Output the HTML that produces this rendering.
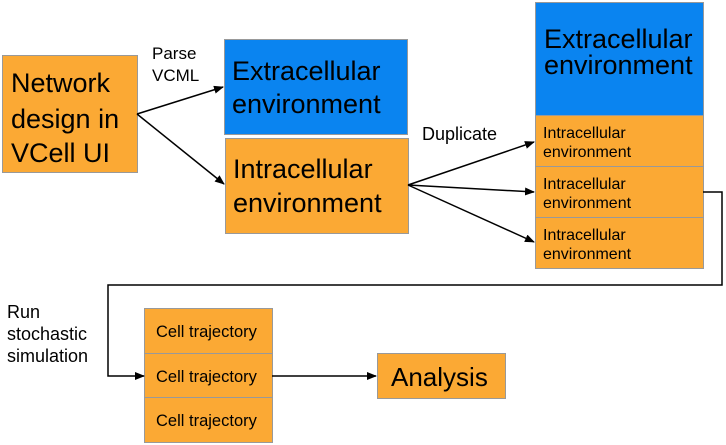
<!DOCTYPE html>
<html><head><style>
body{margin:0;background:#fff;}
svg{display:block;font-family:"Liberation Sans",sans-serif;}
</style></head><body>
<svg width="726" height="445" viewBox="0 0 726 445">
<defs><marker id="a" markerWidth="10" markerHeight="8" refX="9" refY="4" orient="auto" markerUnits="userSpaceOnUse"><path d="M0,0 L10,4 L0,8 Z" fill="#000"/></marker></defs>
<g stroke="#999" stroke-width="1">
<rect x="2.5" y="55.5" width="135" height="117" fill="#FBA934"/>
<rect x="224.5" y="39.5" width="183" height="95" fill="#0A84F0"/>
<rect x="225.5" y="138.5" width="183" height="95" fill="#FBA934"/>
<rect x="535.5" y="2.5" width="168" height="113" fill="#0A84F0"/>
<rect x="535.5" y="115.5" width="168" height="51" fill="#FBA934"/>
<rect x="535.5" y="166.5" width="168" height="51" fill="#FBA934"/>
<rect x="535.5" y="217.5" width="168" height="51" fill="#FBA934"/>
<rect x="144.5" y="308.5" width="128" height="45" fill="#FBA934"/>
<rect x="144.5" y="353.5" width="128" height="44" fill="#FBA934"/>
<rect x="144.5" y="397.5" width="128" height="45" fill="#FBA934"/>
<rect x="377.5" y="353.5" width="128" height="45" fill="#FBA934"/>
</g>
<g stroke="#000" stroke-width="1.5" fill="none">
<line x1="137" y1="114" x2="223" y2="87" marker-end="url(#a)"/>
<line x1="137" y1="114" x2="224" y2="184" marker-end="url(#a)"/>
<line x1="408" y1="185" x2="534" y2="142" marker-end="url(#a)"/>
<line x1="408" y1="185" x2="534" y2="192" marker-end="url(#a)"/>
<line x1="408" y1="185" x2="534" y2="242" marker-end="url(#a)"/>
<polyline points="703,192 722,192 722,285 108,285 108,376 144,376" marker-end="url(#a)"/>
<line x1="272" y1="376" x2="376" y2="376" marker-end="url(#a)"/>
</g>
<g fill="#000">
<text font-size="27"><tspan x="11" y="92">Network</tspan><tspan x="11" y="128">design in</tspan><tspan x="11" y="162">VCell UI</tspan></text>
<text font-size="27"><tspan x="232" y="80">Extracellular</tspan><tspan x="232" y="113">environment</tspan></text>
<text font-size="27"><tspan x="233" y="178">Intracellular</tspan><tspan x="233" y="212">environment</tspan></text>
<text font-size="27"><tspan x="544" y="48">Extracellular</tspan><tspan x="544" y="74">environment</tspan></text>
<text font-size="16"><tspan x="543" y="138">Intracellular</tspan><tspan x="543" y="157">environment</tspan></text>
<text font-size="16"><tspan x="543" y="189">Intracellular</tspan><tspan x="543" y="208">environment</tspan></text>
<text font-size="16"><tspan x="543" y="240">Intracellular</tspan><tspan x="543" y="259">environment</tspan></text>
<text font-size="17"><tspan x="152" y="59">Parse</tspan><tspan x="152" y="81">VCML</tspan></text>
<text font-size="18" x="422" y="140">Duplicate</text>
<text font-size="18"><tspan x="7" y="318">Run</tspan><tspan x="7" y="340">stochastic</tspan><tspan x="7" y="362">simulation</tspan></text>
<text font-size="16.5" x="156" y="337">Cell trajectory</text>
<text font-size="16.5" x="156" y="382">Cell trajectory</text>
<text font-size="16.5" x="156" y="426">Cell trajectory</text>
<text font-size="26" x="391" y="386">Analysis</text>
</g>
</svg>
</body></html>
